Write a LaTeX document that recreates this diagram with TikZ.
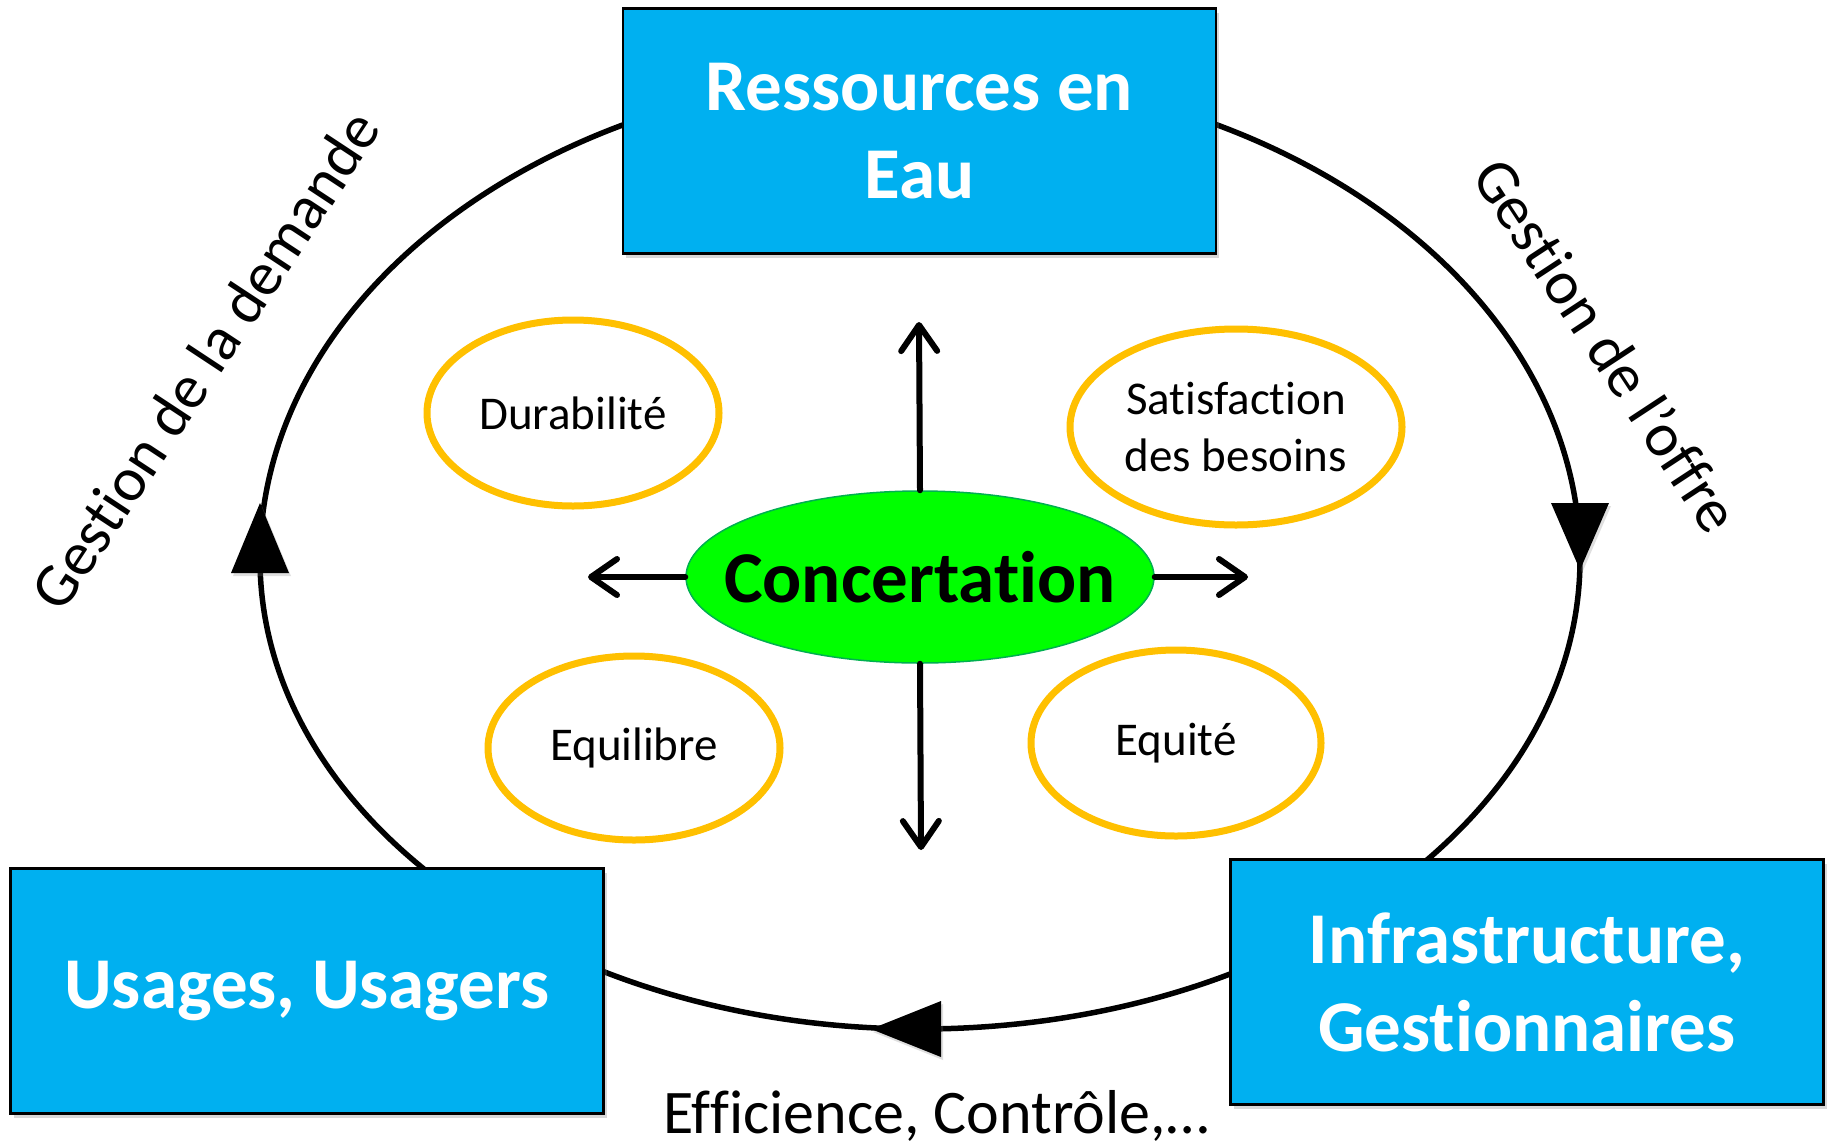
\documentclass[tikz,border=0pt]{standalone}
\usepackage{fontspec}
\setmainfont{Carlito}[Ligatures=NoCommon]
\usetikzlibrary{shapes.geometric,arrows.meta,shadows}
\definecolor{boxblue}{HTML}{00B0F0}
\definecolor{ringorange}{HTML}{FFC000}
\definecolor{concgreen}{HTML}{00FF00}
\definecolor{concborder}{HTML}{00B050}
\newcommand\myti{t\kern0pt i}
\newcommand\myff{f\kern0pt f\kern0pt}
\begin{document}
\begin{tikzpicture}[x=1pt,y=-1pt,
  bluebox/.style={rectangle, draw=black, line width=2.8pt, fill=boxblue, text=white,
    font=\fontsize{73}{88}\selectfont\bfseries, align=center, inner sep=0pt,
    minimum width=593pt, minimum height=245pt,
    drop shadow={opacity=0.3, shadow xshift=3pt, shadow yshift=-4pt}},
  ring/.style={ellipse, draw=ringorange, line width=7pt, inner sep=0pt,
    font=\fontsize{47}{57}\selectfont, align=center},
  cyc/.style={line width=5.5pt},
  tri/.style={fill=black, drop shadow={opacity=0.25, shadow xshift=2pt, shadow yshift=-3pt}},
  arr/.style={line width=6pt, line cap=round,
    -{Straight Barb[length=26pt,width=36pt,line width=6pt,line cap=round,line join=round]}},
  lbl/.style={font=\fontsize{62}{74}\selectfont, inner sep=0pt}
]
\useasboundingbox (0,0) rectangle (1833,1146);
\fill[white] (0,0) rectangle (1833,1146);

% cycle
\coordinate (cycL) at (260,559);
\draw[cyc] (cycL) arc[start angle=180, end angle=0, x radius=660pt, y radius=486pt]
  arc[start angle=360, end angle=180, x radius=660pt, y radius=470pt] -- cycle;
\fill[tri] (260,503) -- (231,573) -- (289,573) -- cycle;
\fill[tri] (1551,503) -- (1609,503) -- (1580,570) -- cycle;
\fill[tri] (871,1029) -- (941,1001) -- (941,1057) -- cycle;

% boxes
\node[bluebox] (res) at (919.5,131) {Ressources en\\Eau};
\node[bluebox] (usa) at (307,991) {Usages, Usagers};
\node[bluebox] (inf) at (1527,982) {Infrastructure,\\Ges\myti onnaires};

% rings
\node[ring, minimum width=292pt, minimum height=186pt] (dur) at (573,413) {Durabilité};
\node[ring, minimum width=332pt, minimum height=196pt] (sat) at (1236,427) {Satisfac\myti on\\des besoins};
\node[ring, minimum width=292pt, minimum height=184pt] (equ) at (634,748) {Equilibre};
\node[ring, minimum width=290pt, minimum height=186pt] (eqt) at (1176,743) {Equité};

% concertation
\node[ellipse, draw=concborder, line width=1.5pt, fill=concgreen, inner sep=0pt,
  minimum width=468pt, minimum height=172pt] (conc) at (920,577) {};
\node[font=\fontsize{73}{88}\selectfont\bfseries, inner sep=0pt] (concT) at (conc.center) {Concerta\myti on};

\coordinate (tipU) at (919,322);
\coordinate (tipD) at (921,850);
\coordinate (tipL) at (588,577);
\coordinate (tipR) at (1248,577);
\draw[arr] (conc.north) -- (tipU);
\draw[arr] (conc.south) -- (tipD);
\draw[arr] (conc.west) -- (tipL);
\draw[arr] (conc.east) -- (tipR);

% labels
\node[lbl, rotate=56.6] (dem) at (205,360) {Ges\myti on de la demande};
\node[lbl, rotate=-56.7] (off) at (1607,345) {Ges\myti on de l’o\myff re};
\node[lbl] (eff) at (936,1116) {E\myff icience, Contrôle,…};
\end{tikzpicture}
\end{document}
